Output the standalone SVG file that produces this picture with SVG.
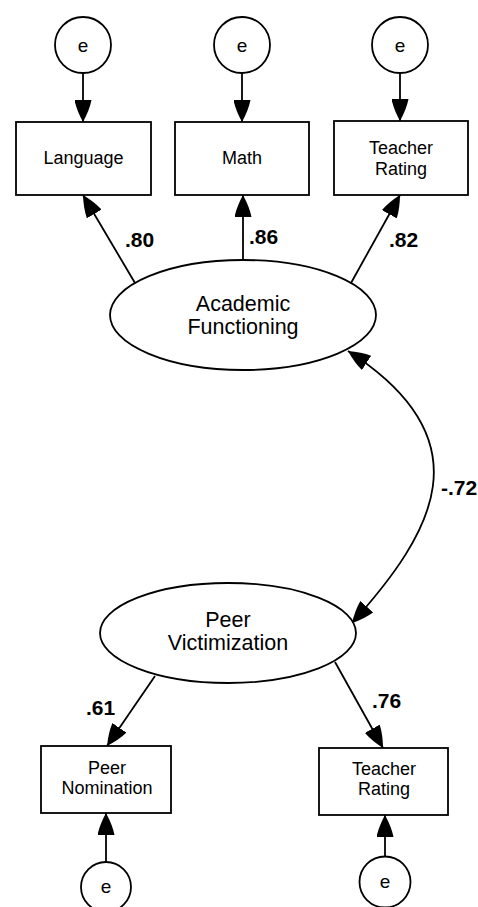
<svg xmlns="http://www.w3.org/2000/svg" width="478" height="907" viewBox="0 0 478 907">
<style>
.shape{fill:#fff;stroke:#000;stroke-width:1.8}
.conn{fill:none;stroke:#000;stroke-width:1.8}
.t{font-family:"Liberation Sans",Arial,sans-serif;fill:#000;text-anchor:middle}
.box{font-size:18px}
.lat{font-size:21.5px}
.err{font-size:19px}
.lab{font-family:"Liberation Sans",Arial,sans-serif;font-weight:bold;font-size:21px;fill:#000}
</style>
<defs>
<marker id="ah" markerUnits="userSpaceOnUse" viewBox="0 0 22 17" refX="22" refY="8.5" markerWidth="22" markerHeight="17" orient="auto">
<path d="M0,0 Q10,2 22,8.5 Q10,15 0,17 z" fill="#000"/>
</marker>
<marker id="ahs" markerUnits="userSpaceOnUse" viewBox="0 0 22 17" refX="22" refY="8.5" markerWidth="22" markerHeight="17" orient="auto-start-reverse">
<path d="M0,0 Q10,2 22,8.5 Q10,15 0,17 z" fill="#000"/>
</marker>
</defs>

<g id="connectors">
<line class="conn" x1="83" y1="73" x2="83" y2="122" marker-end="url(#ah)"/>
<line class="conn" x1="242" y1="73" x2="242" y2="122" marker-end="url(#ah)"/>
<line class="conn" x1="400" y1="73" x2="400" y2="121" marker-end="url(#ah)"/>
<line class="conn" x1="135" y1="283" x2="83" y2="195" marker-end="url(#ah)"/>
<line class="conn" x1="243" y1="260" x2="243" y2="195" marker-end="url(#ah)"/>
<line class="conn" x1="351" y1="283" x2="400" y2="195" marker-end="url(#ah)"/>
<path class="conn" d="M348,351 C487,440 434,532 352,623" marker-start="url(#ahs)" marker-end="url(#ah)"/>
<line class="conn" x1="155" y1="676" x2="107" y2="746" marker-end="url(#ah)"/>
<line class="conn" x1="335" y1="662" x2="383" y2="748" marker-end="url(#ah)"/>
<line class="conn" x1="106" y1="862" x2="106" y2="813" marker-end="url(#ah)"/>
<line class="conn" x1="385" y1="857" x2="385" y2="815" marker-end="url(#ah)"/>
<text class="lab" x="125" y="247">.80</text>
<text class="lab" x="249" y="244">.86</text>
<text class="lab" x="389" y="247">.82</text>
<text class="lab" x="441" y="495">-.72</text>
<text class="lab" x="86" y="715">.61</text>
<text class="lab" x="372" y="708">.76</text>
</g>

<g id="e1"><circle class="shape" cx="83" cy="45" r="28"/><text class="t err" x="83" y="52">e</text></g>
<g id="e2"><circle class="shape" cx="242" cy="45" r="28"/><text class="t err" x="242" y="52">e</text></g>
<g id="e3"><circle class="shape" cx="400" cy="45" r="28"/><text class="t err" x="400" y="52">e</text></g>

<g id="language"><rect class="shape" x="16" y="122" width="135" height="73"/><text class="t box" x="83.5" y="164">Language</text></g>
<g id="math"><rect class="shape" x="175" y="122" width="134" height="73"/><text class="t box" x="242" y="164">Math</text></g>
<g id="teacher1"><rect class="shape" x="334" y="121" width="134" height="74"/><text class="t box" x="401" y="154">Teacher</text><text class="t box" x="401" y="175">Rating</text></g>

<g id="academic"><ellipse class="shape" cx="243" cy="315" rx="133" ry="55"/><text class="t lat" x="243" y="311">Academic</text><text class="t lat" x="243" y="334">Functioning</text></g>

<g id="peer"><ellipse class="shape" cx="228" cy="633" rx="128" ry="50"/><text class="t lat" x="228" y="627">Peer</text><text class="t lat" x="228" y="650">Victimization</text></g>

<g id="nomination"><rect class="shape" x="41" y="746" width="130" height="67"/><text class="t box" x="107" y="774">Peer</text><text class="t box" x="107" y="794">Nomination</text></g>
<g id="teacher2"><rect class="shape" x="319" y="748" width="129" height="67"/><text class="t box" x="384" y="775">Teacher</text><text class="t box" x="384" y="795">Rating</text></g>

<g id="e4"><circle class="shape" cx="106" cy="887" r="25"/><text class="t err" x="106" y="893">e</text></g>
<g id="e5"><circle class="shape" cx="385" cy="882" r="25.5"/><text class="t err" x="385" y="888">e</text></g>
</svg>
